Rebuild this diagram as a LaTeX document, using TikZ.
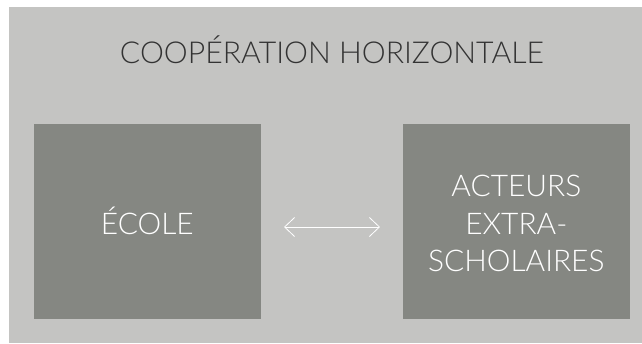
\documentclass[tikz,border=0pt]{standalone}
\usepackage{fontspec}
\setmainfont{Lato}[UprightFont=* Light]
\usetikzlibrary{arrows.meta}
\definecolor{outerbg}{HTML}{C4C4C2}
\definecolor{boxgray}{HTML}{858782}
\definecolor{titlegray}{HTML}{333333}
\begin{document}
\begin{tikzpicture}[x=1bp,y=-1bp,
  panel/.style={draw=none,fill=boxgray,minimum width=226.7bp,minimum height=195bp,inner sep=0pt},
  boxtext/.style={text=white,font=\fontsize{30}{37.5}\selectfont,align=center},
  link/.style={draw=white,line width=0.8bp,{Straight Barb[length=10bp,width=19bp]}-{Straight Barb[length=10bp,width=19bp]}}]
  \useasboundingbox (0,0) rectangle (642,343);
  \fill[outerbg] (9,7) rectangle (642,343);
  \node[anchor=base,text=titlegray,font=\fontsize{30.3}{36}\selectfont] (title) at (332,63.3) {COOPÉRATION HORIZONTALE};
  \node[panel] (ecole) at (147.3,221.5) {};
  \node[panel] (acteurs) at (516.3,221.5) {};
  \node[boxtext,anchor=base] (ecoletext) at (147.3,234) {ÉCOLE};
  \node[boxtext,anchor=base] (acteurstext) at (516.3,271.7) {ACTEURS\\EXTRA-\\SCHOLAIRES};
  \coordinate (la) at (284,227);
  \coordinate (ra) at (380,227);
  \draw[link] (la) -- (ra);
\end{tikzpicture}
\end{document}
